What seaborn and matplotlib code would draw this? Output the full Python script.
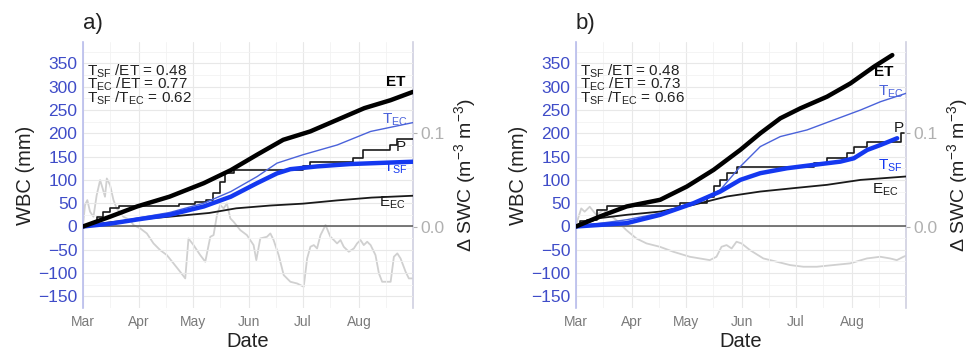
import numpy as np
import pandas as pd
import matplotlib
matplotlib.use("Agg")
import matplotlib.pyplot as plt
import matplotlib.dates as mdates
import seaborn as sns

# ---------------- data (days since 1 March, values in mm / m3 m-3) ----------------
# Panel a
a_et_day = [0, 15, 30, 48, 67, 82, 96.5, 111, 126, 141, 156, 170.5, 183]
a_et_val = [0, 21, 43, 64, 93, 121, 154, 186, 204, 229, 254, 271, 289]
a_tec_day = [0, 15, 30, 48, 67, 82, 96.5, 107.6, 122, 141, 159.5, 183]
a_tec_val = [0, 7, 18, 30, 50, 75, 107, 136, 154, 175, 204, 223]
a_tsf_day = [0, 15, 30, 48, 67, 82, 96.5, 107.6, 115, 130, 148, 183]
a_tsf_val = [0, 6, 15, 25, 43, 64, 93, 114, 123, 129, 134, 139]
a_p_day = [0, 4, 8, 11, 15, 20, 53, 62, 68, 72, 76, 79, 84, 122, 126, 150, 155, 170, 174, 183]
a_p_val = [0, 8, 20, 32, 40, 43, 48, 53, 57, 72, 95, 115, 121, 129, 139, 146, 164, 175, 188, 188]
a_eec_day = [0, 15, 30, 48, 70, 85, 104, 122, 141, 160, 183]
a_eec_val = [0, 9, 15, 21, 29, 39, 45, 49, 56, 62, 66]
a_swc_day = [0, 1.1, 2.4, 3.9, 5.8, 7.6, 9.5, 10.9, 12.2, 13.2, 15, 16.9, 18.7, 22.4, 26.1, 28,
             31.7, 35.4, 39.1, 42.8, 46.5, 50.2, 53.9, 56.7, 58.5, 61.3, 65, 67.8, 70.6, 72.4,
             74.3, 76.1, 78, 79.8, 81.7, 83.5, 87.2, 90.9, 94.6, 96.1, 98.3, 102, 103.9, 105.7,
             108.5, 111.3, 115, 118.7, 122.4, 124.3, 126.1, 128, 129.8, 131.7, 134.5, 137.2,
             139.1, 140.9, 142.8, 144.6, 147.4, 150.2, 152, 153.9, 155.7, 157.6, 159.5, 162.2,
             164.1, 165.9, 170.6, 172.4, 174.3, 176.1, 178.9, 180.7, 182.6]
a_swc_val = [0.0020, 0.0233, 0.0286, 0.0162, 0.0108, 0.0340, 0.0500, 0.0411, 0.0322, 0.0518,
             0.0447, 0.0286, 0.0197, 0.0108, 0.0072, 0.0019, -0.0017, -0.0071, -0.0178, -0.0250,
             -0.0303, -0.0392, -0.0482, -0.0553, -0.0125, -0.0196, -0.0303, -0.0374, -0.0107,
             -0.0089, 0.0126, 0.0233, 0.0197, 0.0251, 0.0090, 0.0054, -0.0035, -0.0089, -0.0196,
             -0.0357, -0.0125, -0.0107, -0.0071, -0.0142, -0.0303, -0.0517, -0.0589, -0.0607,
             -0.0642, -0.0339, -0.0214, -0.0196, -0.0232, -0.0089, 0.0019, -0.0107, -0.0142,
             -0.0178, -0.0142, -0.0214, -0.0267, -0.0232, -0.0178, -0.0142, -0.0196, -0.0160,
             -0.0196, -0.0303, -0.0499, -0.0589, -0.0589, -0.0321, -0.0285, -0.0339, -0.0482,
             -0.0553, -0.0553]

# Panel b
b_et_day = [0, 13.3, 28.1, 46.7, 61.5, 76.3, 91.1, 102.2, 113.3, 124.4, 139.2, 152.2, 165.2, 175.4]
b_et_val = [0, 21.6, 43, 57.3, 85.8, 121.5, 164.4, 200, 232.2, 253.6, 278.6, 307.2, 342.9, 367.9]
b_tec_day = [0, 28.1, 46.7, 65.2, 80, 91.1, 102.2, 113.3, 128.1, 142.9, 157.8, 168.9, 183]
b_tec_val = [0, 14.4, 28.7, 50, 78.6, 128.6, 171.5, 193, 207.2, 228.6, 250, 267.9, 285.8]
b_tsf_day = [0, 28.1, 46.7, 65.2, 80, 91.1, 102.2, 117, 131.8, 146.6, 154.1, 161.5, 168.9, 178.1]
b_tsf_val = [0, 7.1, 25, 50, 75, 100, 114.4, 125, 132.2, 139.2, 146.4, 164.3, 175, 189.4]
b_p_day = [0, 2.2, 6, 11.5, 17, 57.8, 72.6, 76.3, 80, 83.7, 89.2, 131.8, 139.2, 150.4, 154.1,
           161.5, 180, 182]
b_p_val = [0, 10.7, 14, 35.7, 43, 50, 64, 86, 100, 114, 128.6, 135.7, 146.4, 157, 171.5, 182,
           200, 200]
b_eec_day = [0, 13.3, 28.1, 46.7, 65.2, 83.7, 102.2, 120.7, 139.2, 157.8, 183]
b_eec_val = [0, 18, 25, 32, 46.5, 64.4, 75, 82.3, 89.4, 100, 107.3]
b_swc_day = [0, 2.9, 4.8, 7.6, 11.3, 15, 18.7, 22.4, 27.9, 33.5, 39.1, 46.5, 53.9, 63.1, 74.2,
             77.9, 80.7, 83.5, 86.3, 89, 91.8, 96.5, 103.9, 111.3, 118.7, 126.1, 133.5, 142.7,
             152, 161.3, 168.7, 174.2, 177.9, 181.6, 183]
b_swc_val = [0.0019, 0.0197, 0.0162, 0.0215, 0.0126, 0.0179, 0.0126, 0.0072, -0.0035, -0.0125,
             -0.0178, -0.0214, -0.0267, -0.0321, -0.0357, -0.0321, -0.0214, -0.0196, -0.0232,
             -0.0160, -0.0178, -0.0250, -0.0339, -0.0374, -0.0410, -0.0428, -0.0428, -0.0410,
             -0.0392, -0.0339, -0.0321, -0.0339, -0.0357, -0.0321, -0.0310]

panel_labels = ["a)", "b)"]
ratio_texts = [
    [r"$\mathregular{T_{SF}}$ /ET = 0.48", r"$\mathregular{T_{EC}}$ /ET = 0.77",
     r"$\mathregular{T_{SF}}$ /$\mathregular{T_{EC}}$ = 0.62"],
    [r"$\mathregular{T_{SF}}$ /ET = 0.48", r"$\mathregular{T_{EC}}$ /ET = 0.73",
     r"$\mathregular{T_{SF}}$ /$\mathregular{T_{EC}}$ = 0.66"],
]
month_labels = ["Mar", "Apr", "May", "Jun", "Jul", "Aug"]
wbc_ticks = [-150, -100, -50, 0, 50, 100, 150, 200, 250, 300, 350]
swc_ticks = [0.0, 0.1]

# series label positions (day of right edge, mm)
a_lab = {"ET": (179, 310), "TEC": (180, 228), "P": (179, 171), "TSF": (180, 126), "EEC": (179, 51)}
b_lab = {"ET": (176, 332), "TEC": (182, 289), "P": (182, 211), "TSF": (181, 130), "EEC": (179, 79)}

# ---------------- style ----------------
sns.set_theme(style="white")
plt.rcParams["font.family"] = ["Liberation Sans", "DejaVu Sans"]
plt.rcParams["mathtext.fontset"] = "custom"
plt.rcParams["mathtext.rm"] = "Liberation Sans"

BASE = pd.Timestamp("2019-03-01")


def to_dates(days):
    return BASE + pd.to_timedelta(np.asarray(days, dtype=float), unit="D")


fig = plt.figure(figsize=(9.66, 3.5), dpi=100)
fig.patch.set_facecolor("white")

YLIM = (-174, 396)
SCALE = 2000.0
blue_tick = "#3f4cc8"
thick_blue = "#1438f0"
thin_blue = "#4a62da"

panels = [
    dict(left=83, et=(a_et_day, a_et_val), tec=(a_tec_day, a_tec_val), tsf=(a_tsf_day, a_tsf_val),
         p=(a_p_day, a_p_val), eec=(a_eec_day, a_eec_val), swc=(a_swc_day, a_swc_val), lab=a_lab),
    dict(left=576, et=(b_et_day, b_et_val), tec=(b_tec_day, b_tec_val), tsf=(b_tsf_day, b_tsf_val),
         p=(b_p_day, b_p_val), eec=(b_eec_day, b_eec_val), swc=(b_swc_day, b_swc_val), lab=b_lab),
]

W, H = 966.0, 350.0
for i, pan in enumerate(panels):
    rect = [pan["left"] / W, 1 - 308 / H, 330 / W, (308 - 42) / H]
    ax2 = fig.add_axes(rect)          # secondary (drawn behind)
    ax = fig.add_axes(rect, sharex=ax2)
    ax.patch.set_visible(False)
    ax2.set_zorder(0)
    ax.set_zorder(1)

    # secondary axis: delta SWC
    sns.lineplot(x=to_dates(pan["swc"][0]), y=pan["swc"][1], ax=ax2, color="#d0d0d0",
                 lw=1.3, estimator=None, sort=False)
    ax2.set_ylim(YLIM[0] / SCALE, YLIM[1] / SCALE)
    ax2.yaxis.tick_right()
    ax2.yaxis.set_label_position("right")
    ax2.set_yticks(swc_ticks)
    ax2.set_yticklabels(["0.0", "0.1"])
    ax2.tick_params(axis="y", colors="#b0b0b0", labelsize=12.5, length=3, width=0.8, pad=2)
    ax2.tick_params(axis="x", length=0)
    ax2.set_xlabel("")
    ax2.set_ylabel(r"$\Delta$ SWC (m$^{-3}$ m$^{-3}$)", fontsize=14, color="#222222", labelpad=6)
    for s in ["top", "bottom", "left"]:
        ax2.spines[s].set_visible(False)
    ax2.spines["right"].set_visible(True)
    ax2.spines["right"].set_color("#cfd0e0")
    ax2.spines["right"].set_linewidth(1.2)
    ax2.grid(False)
    ax2.set_facecolor("white")

    # gridlines on primary axis
    ax.set_ylim(*YLIM)
    ax.set_yticks(wbc_ticks)
    ax.set_yticks(np.arange(-175, 400, 50), minor=True)
    ax.grid(which="major", color="#e8e8e8", lw=0.8)
    ax.grid(which="minor", color="#f2f2f2", lw=0.6)
    ax.set_axisbelow(True)

    ax.axhline(0, color="#555555", lw=1.1, zorder=2)

    sns.lineplot(x=to_dates(pan["eec"][0]), y=pan["eec"][1], ax=ax, color="#1a1a1a", lw=1.3,
                 estimator=None, sort=False, zorder=3)
    sns.lineplot(x=to_dates(pan["p"][0]), y=pan["p"][1], ax=ax, color="#1a1a1a", lw=1.2,
                 estimator=None, sort=False, drawstyle="steps-post", zorder=3)
    sns.lineplot(x=to_dates(pan["tec"][0]), y=pan["tec"][1], ax=ax, color=thin_blue, lw=1.0,
                 estimator=None, sort=False, zorder=4)
    sns.lineplot(x=to_dates(pan["tsf"][0]), y=pan["tsf"][1], ax=ax, color=thick_blue, lw=3.2,
                 estimator=None, sort=False, zorder=4)
    sns.lineplot(x=to_dates(pan["et"][0]), y=pan["et"][1], ax=ax, color="#000000", lw=3.2,
                 estimator=None, sort=False, zorder=5)

    # x axis
    ax.set_xlim(BASE, BASE + pd.Timedelta(days=183))
    ax.xaxis.set_major_locator(mdates.MonthLocator())
    ax.xaxis.set_minor_locator(mdates.MonthLocator(bymonthday=16))
    ax.xaxis.set_major_formatter(mdates.DateFormatter("%b"))
    ax.tick_params(axis="x", colors="#7a7a7a", labelsize=10, length=0, pad=5)
    ax.tick_params(axis="x", which="minor", length=0)
    ax.tick_params(axis="y", colors=blue_tick, labelsize=12.5, length=3, width=0.8, pad=1)
    ax.tick_params(axis="y", which="minor", length=0)
    for lab in ax.get_yticklabels():
        lab.set_color(blue_tick)
    ax.set_xlabel("Date", fontsize=14.5, color="#222222", labelpad=2)
    ax.set_ylabel("WBC (mm)", fontsize=14.5, color="#222222", labelpad=2)
    for s in ["top", "bottom", "right"]:
        ax.spines[s].set_visible(False)
    ax.spines["left"].set_visible(True)
    ax.spines["left"].set_color("#b8bcec")
    ax.spines["left"].set_linewidth(1.2)
    plt.setp(ax2.get_xticklabels(), visible=False)

    # panel label
    ax.text(0.0, 1.068, panel_labels[i], transform=ax.transAxes, fontsize=16, color="#222222",
            ha="left", va="center")

    # ratio annotation
    for k, t in enumerate(ratio_texts[i]):
        ax.text(0.012, 0.89 - k * 0.05, t, transform=ax.transAxes, fontsize=11,
                color="#222222", ha="left", va="center", zorder=6)

    # series labels
    lab = pan["lab"]
    def dlab(key, text, color, weight="normal"):
        d, v = lab[key]
        ax.text(BASE + pd.Timedelta(days=d), v, text, fontsize=11, color=color,
                ha="right", va="center", fontweight=weight, zorder=6)
    dlab("ET", "ET", "#000000", "bold")
    dlab("TEC", r"$\mathregular{T_{EC}}$", thin_blue)
    dlab("P", "P", "#1a1a1a")
    dlab("TSF", r"$\mathregular{T_{SF}}$", thick_blue)
    dlab("EEC", r"$\mathregular{E_{EC}}$", "#1a1a1a")

fig.savefig("out.png", dpi=100, facecolor="white")
